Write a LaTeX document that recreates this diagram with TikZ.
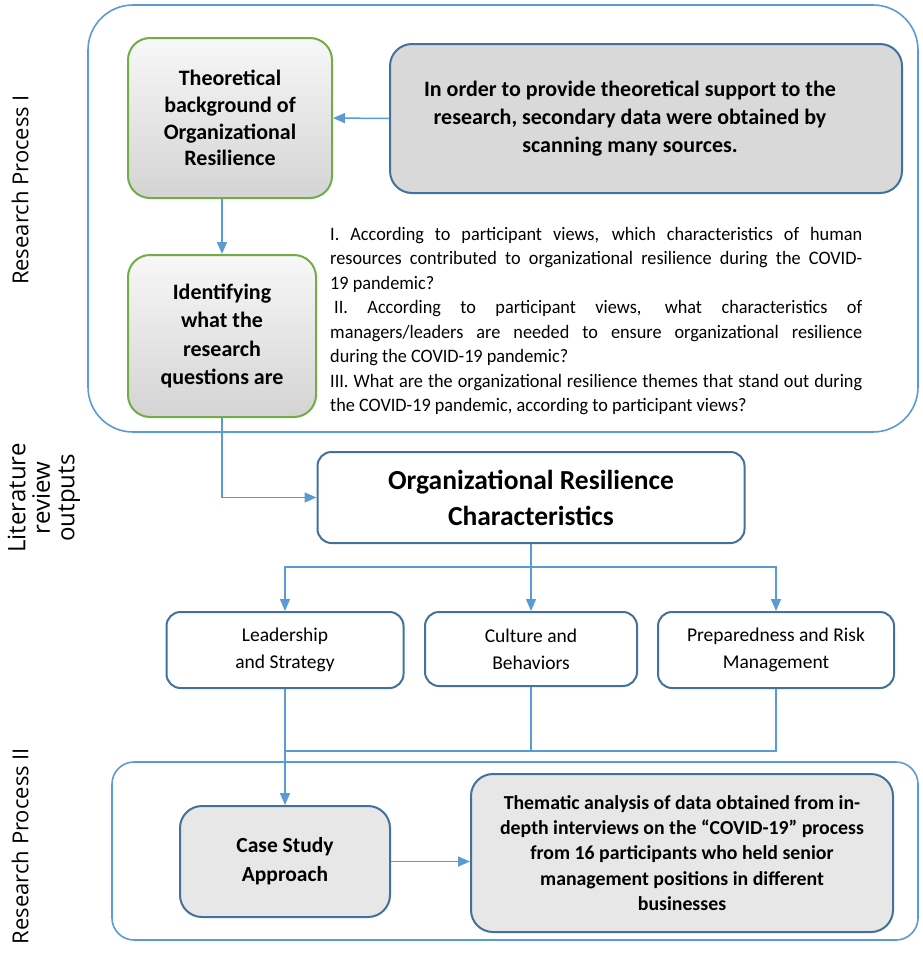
\documentclass[tikz,border=0pt]{standalone}
\usepackage{fontspec}
\setmainfont{Carlito}
\newfontfamily\questionfont{Carlito}[FakeStretch=0.96]
\newfontfamily\sidefont{Open Sans}
\usetikzlibrary{arrows.meta}

\definecolor{linkblue}{HTML}{5B9BD5}
\definecolor{boxedge}{HTML}{41719C}
\definecolor{greenedge}{HTML}{70AD47}
\definecolor{darkfill}{HTML}{D9D9D9}
\definecolor{lightfill}{HTML}{E7E7E7}

\tikzset{
  panel/.style={draw=linkblue, line width=1.6pt},
  greenbox/.style={draw=greenedge, line width=2pt, rounded corners=22pt,
    top color=gray!6, bottom color=gray!34, align=center, inner sep=0pt,
    font=\bfseries\fontsize{22}{26.7}\selectfont},
  graybox/.style={draw=boxedge, line width=2pt, rounded corners=22pt,
    fill=darkfill, align=center, inner sep=0pt},
  whitebox/.style={draw=boxedge, line width=2pt, rounded corners=14pt,
    fill=white, align=center, inner sep=0pt},
  link/.style={draw=linkblue, line width=1.5pt},
  arrow/.style={link, -{Triangle[length=12pt,width=10pt]}},
  sidelabel/.style={rotate=90, align=center, font=\sidefont\fontsize{22}{23}\selectfont},
  question/.style={anchor=north west, inner sep=0pt, text width=532pt, align=justify,
    font=\questionfont\fontsize{19}{24.5}\selectfont},
}

\begin{document}
\begin{tikzpicture}[x=1pt, y=-1pt]
\useasboundingbox (0,0) rectangle (922,956);

% research process I panel
\draw[panel, rounded corners=45pt] (88,5) rectangle (918,432);
% research process II panel
\draw[panel, rounded corners=22pt] (112,762) rectangle (918,940);

% side labels
\node[sidelabel] (lab1) at (20,190) {Research Process I};
\node[sidelabel, font=\sidefont\fontsize{24}{24.5}\selectfont] (lab2) at (44,498) {Literature\\review\\outputs};
\node[sidelabel] (lab3) at (20,846) {Research Process II};

% process I
\node[greenbox, minimum width=204pt, minimum height=160pt] (theo) at (230,118)
  {Theoretical\\background of\\Organizational\\Resilience};
\node[graybox, minimum width=512pt, minimum height=149pt,
  font=\bfseries\fontsize{22}{28}\selectfont] (src) at (646,118.5)
  {\begin{tabular}{@{}c@{}}In order to provide theoretical support to the\\
   research, secondary data were obtained by\\scanning many sources.\end{tabular}\hspace*{32pt}};
\node[greenbox, minimum width=188pt, minimum height=162pt,
  font=\bfseries\fontsize{22}{28.5}\selectfont] (ident) at (222,336)
  {Identifying\\what the\\research\\questions are};

% research questions, one justified paragraph each
\node[question] (q1) at (330,227)
  {\hyphenpenalty=10000\tolerance=9999\emergencystretch=20pt
   I. According to participant views, which characteristics of human\linebreak
   resources contributed to organizational resilience during the COVID-\linebreak
   19 pandemic?};
\node[question] (q2) at (330,300.5)
  {\hyphenpenalty=10000\tolerance=9999\emergencystretch=20pt
   \leavevmode\kern4pt II. According to participant views, what characteristics of\linebreak
   managers/leaders are needed to ensure organizational resilience\linebreak
   during the COVID-19 pandemic?};
\node[question] (q3) at (330,374)
  {\hyphenpenalty=10000\tolerance=9999\emergencystretch=20pt
   III. What are the organizational resilience themes that stand out during\linebreak
   the COVID-19 pandemic, according to participant views?};

% literature review outputs
\node[whitebox, minimum width=427pt, minimum height=91pt,
  font=\bfseries\fontsize{27.5}{36}\selectfont] (orc) at (531,497.5)
  {Organizational Resilience\\Characteristics};

\node[whitebox, minimum width=237pt, minimum height=76pt,
  font=\fontsize{19.5}{27}\selectfont] (lead) at (285,650)
  {Leadership\\and Strategy};
\node[whitebox, minimum width=212pt, minimum height=74pt,
  font=\fontsize{19.5}{27}\selectfont] (cult) at (531,649)
  {Culture and\\Behaviors};
\node[whitebox, minimum width=236pt, minimum height=76pt,
  font=\fontsize{19.5}{27}\selectfont] (prep) at (776,650)
  {Preparedness and Risk\\Management};

% process II
\node[graybox, fill=lightfill, minimum width=210pt, minimum height=111pt,
  font=\bfseries\fontsize{21.5}{29}\selectfont] (case) at (285,861.5)
  {Case Study\\Approach};
\node[graybox, fill=lightfill, minimum width=422pt, minimum height=158pt,
  font=\bfseries\fontsize{19.8}{25.2}\selectfont] (them) at (682,853)
  {Thematic analysis of data obtained from in-\\depth interviews on the ``COVID-19'' process\\
   from 16 participants who held senior\\management positions in different\\businesses};

% connectors
\draw[arrow] (src.west) -- (theo.east);
\draw[arrow] (theo.south -| ident.north) -- (ident.north);
\draw[arrow] (ident.south) |- (orc.west);

\coordinate (fork) at (531,567);
\draw[arrow] (orc.south) -- (cult.north);
\draw[arrow] (fork) -| (lead.north);
\draw[arrow] (fork) -| (prep.north);

\coordinate (merge) at (285,751);
\draw[link] (cult.south) |- (merge);
\draw[link] (prep.south) |- (merge);
\draw[arrow] (lead.south) -- (case.north);
\draw[arrow] (case.east) -- (case.east -| them.west);
\end{tikzpicture}
\end{document}
